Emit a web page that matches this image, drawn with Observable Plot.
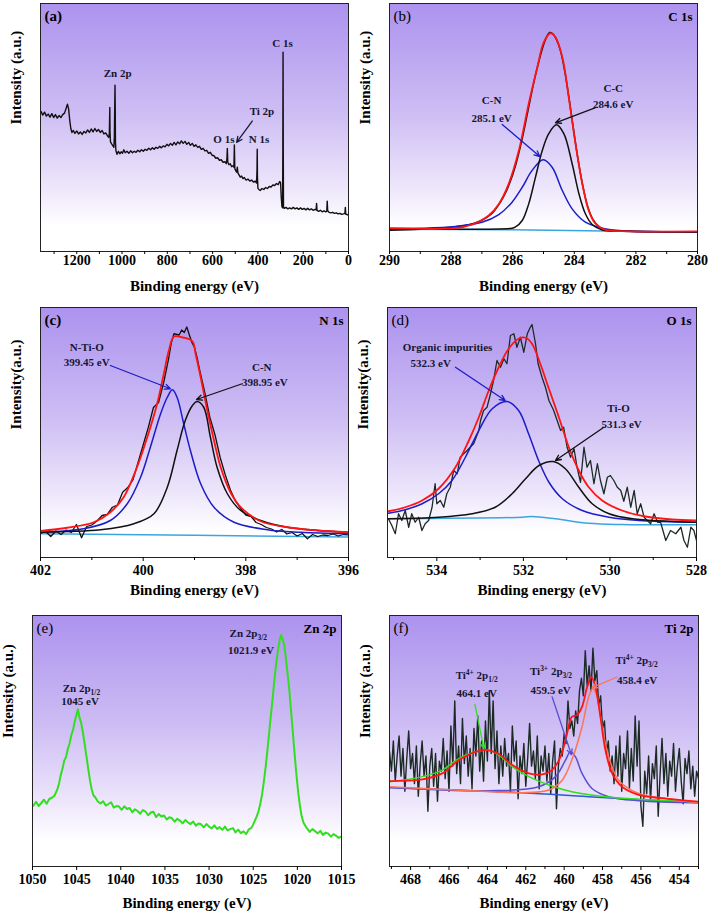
<!DOCTYPE html>
<html><head><meta charset="utf-8">
<script src="https://cdn.jsdelivr.net/npm/d3@7"></script>
<script src="https://cdn.jsdelivr.net/npm/@observablehq/plot@0.6"></script>
<style>
body{margin:0;background:#fff;}
#fig{position:relative;width:709px;height:913px;overflow:hidden;background:#fff;}
.panel{position:absolute;}
</style></head><body><div id="fig"></div>
<script>
const FONT = "'Liberation Serif','Times New Roman',serif";
const X_TITLE = "Binding energy (eV)";

// ---------- (a) survey ----------
const surveyTicks = [1200, 1000, 800, 600, 400, 200, 0];
const surveyMinor = [1300, 1100, 900, 700, 500, 300, 100];
const surveySpectrum = [[1358,56.5],[1350,55.0],[1342,56.2],[1334,54.6],[1326,55.4],[1318,54.2],[1310,55.6],[1302,54.0],[1294,55.2],[1286,53.8],[1278,54.8],[1270,54.0],[1262,55.2],[1254,55.8],[1246,58.0],[1241,59.4],[1236,57.6],[1231,53.0],[1226,49.5],[1221,48.0],[1215,48.8],[1208,47.6],[1200,48.6],[1192,47.4],[1184,48.2],[1176,47.2],[1168,48.4],[1160,47.8],[1152,49.0],[1144,48.0],[1136,49.4],[1128,48.2],[1120,49.6],[1112,48.4],[1104,49.2],[1096,48.0],[1088,48.8],[1080,47.4],[1072,47.8],[1064,46.6],[1059,46.0],[1056,47.5],[1055,53],[1054,58.1],[1053,48],[1051,44.2],[1046,43.4],[1040,42.6],[1036,42.0],[1034,46],[1032,60],[1031,67.1],[1030,58],[1029,44],[1027,40.6],[1022,39.2],[1016,40.4],[1010,39.4],[1004,40.2],[998,39.6],[992,41.0],[986,39.8],[978,40.4],[970,39.6],[962,40.6],[954,39.8],[946,40.4],[938,40.0],[930,40.8],[922,40.2],[914,41.0],[906,40.4],[898,41.2],[890,40.8],[882,41.6],[874,41.0],[866,41.8],[858,41.2],[850,42.0],[842,41.6],[834,42.4],[826,41.8],[818,42.6],[810,42.2],[802,43.2],[794,42.6],[786,43.6],[778,42.8],[770,44.0],[762,43.0],[754,44.2],[746,43.4],[738,44.6],[730,43.6],[722,44.4],[714,43.2],[706,44.0],[698,42.8],[690,43.6],[682,42.4],[674,43.0],[666,42.0],[658,42.4],[650,41.2],[642,41.6],[634,40.6],[626,40.8],[618,39.6],[610,40.0],[602,38.8],[594,38.6],[586,37.6],[578,37.8],[570,36.8],[562,37.0],[554,36.0],[546,36.2],[540,35.4],[537,37],[535,41.6],[533,36],[528,35.0],[522,35.4],[516,34.2],[510,34.6],[506,34.0],[504,43.0],[502,33.5],[498,32.6],[494,32.0],[491,34],[488,31.6],[484,31.0],[478,30.0],[472,30.4],[466,29.4],[460,29.8],[452,28.8],[444,29.2],[436,28.4],[428,28.8],[420,28.0],[412,28.4],[406,27.6],[404,33],[403,41.2],[402,30],[400,25.6],[396,25.0],[390,24.6],[382,25.4],[374,25.0],[366,25.8],[358,25.4],[350,26.2],[342,26.0],[334,26.8],[326,26.6],[318,27.4],[310,27.0],[304,28.2],[300,27.8],[297,22],[294,18.2],[291,17.6],[290,40],[289,80.4],[288,40],[287,18],[284,17.4],[276,17.8],[268,17.2],[260,17.6],[252,17.2],[244,17.8],[236,17.2],[228,17.6],[220,17.0],[212,17.6],[204,17.0],[196,17.4],[188,16.8],[180,17.4],[172,16.8],[164,17.2],[156,16.6],[148,17.0],[143,16.8],[141,19.4],[139,16.6],[132,16.2],[124,16.6],[116,16.0],[108,16.4],[100,16.0],[96,16.2],[94,20.3],[92,16.4],[86,15.8],[78,15.6],[70,15.8],[62,15.4],[54,15.6],[46,15.2],[38,15.4],[30,15.0],[22,15.2],[16,15.4],[14,17.8],[12,15.0],[6,14.9],[0,14.6]];
const surveyLabels = [
  {text: "Zn 2p", x: 1017, y: 71.8}, {text: "C 1s", x: 289, y: 84},
  {text: "Ti 2p", x: 380, y: 56.5}, {text: "O 1s", x: 548, y: 45.2}, {text: "N 1s", x: 393, y: 45.2}
];
const surveyArrows = [{key: "Ti", x1: 425, y1: 52.6, x2: 494, y2: 44}];

// ---------- (b) C 1s ----------
const c1sTicks = [290, 288, 286, 284, 282, 280];
const c1sMinor = [289, 287, 285, 283, 281];
const c1sRaw = [[290,8.6],[289,9.0],[288.5,9.4],[288,9.8],[287.6,10.4],[287.3,11.2],[287.0,12.6],[286.7,15.0],[286.5,18.0],[286.3,22.0],[286.1,27.5],[285.9,35.0],[285.7,45.0],[285.5,57.0],[285.3,69.0],[285.1,79.0],[284.95,85.0],[284.8,88.3],[284.7,87.8],[284.6,86.0],[284.45,81.0],[284.3,72.0],[284.15,60.0],[284.0,47.0],[283.85,35.0],[283.7,25.0],[283.55,17.5],[283.4,13.0],[283.2,10.0],[283.0,8.8],[282.6,8.3],[282,8.1],[281,7.9],[280,7.8]];
const c1sEnvelope = [[290,9.4],[287.86,9.4],[287.31,10.9],[286.78,14.5],[286.45,19.2],[286.13,27.3],[285.80,40.7],[285.48,59.6],[285.2,74.3],[284.99,84.4],[284.77,88.0],[284.61,86.4],[284.39,78.4],[284.18,62.2],[283.96,43.4],[283.74,27.3],[283.53,16.5],[283.31,11.2],[282.99,8.7],[282.44,8.2],[280,8.1]];
const c1sCC = [[290,9.2],[286.02,9.4],[285.92,9.8],[285.69,12.5],[285.48,19.2],[285.26,30.0],[285.04,40.7],[284.83,47.5],[284.58,51.1],[284.34,47.5],[284.07,35.4],[283.85,23.3],[283.64,15.2],[283.42,10.9],[283.09,8.7],[282.44,8.2],[280,8.0]];
const c1sCN = [[290,9.3],[288.94,9.4],[287.86,10.1],[287.0,11.8],[286.45,14.9],[286.02,19.9],[285.69,25.9],[285.37,32.7],[285.01,37.0],[284.72,34.0],[284.39,24.6],[284.07,17.2],[283.64,11.8],[283.09,9.4],[282.44,8.4],[280,8.0]];
const c1sBackground = [[290,9.0],[286,8.8],[283,8.3],[280,7.9]];
const c1sLabels = [
  {text: "C-N", x: 286.67, y: 60.9}, {text: "285.1 eV", x: 286.67, y: 53.5},
  {text: "C-C", x: 282.72, y: 65.6}, {text: "284.6 eV", x: 282.72, y: 59.3}
];
const c1sArrows = [
  {key: "blue", x1: 286.34, y1: 51.2, x2: 285.12, y2: 38.3},
  {key: "black", x1: 283.33, y1: 57.9, x2: 284.61, y2: 51.9}
];

// ---------- (c) N 1s ----------
const n1sTicks = [402, 400, 398, 396];
const n1sMinor = [401, 399, 397];
const n1sRaw = [[402.0,9.6],[401.9,10.4],[401.8,8.4],[401.7,10.6],[401.6,9.2],[401.5,11.0],[401.4,10.0],[401.3,13.2],[401.2,7.9],[401.1,12.4],[401.0,13.0],[400.9,14.6],[400.8,16.8],[400.7,17.2],[400.6,20.1],[400.5,21.0],[400.4,26.1],[400.3,28.0],[400.2,31.0],[400.1,38.0],[400.0,45.0],[399.9,52.0],[399.8,60.0],[399.7,62.0],[399.6,70.0],[399.5,80.0],[399.45,86],[399.4,89.5],[399.3,89.0],[399.25,91.0],[399.2,90.0],[399.15,92.2],[399.1,89.0],[399.05,86.0],[399.0,84.0],[398.95,80.0],[398.9,75.0],[398.8,66.0],[398.7,56.0],[398.6,49.0],[398.5,40.0],[398.4,33.0],[398.3,27.0],[398.2,22.5],[398.1,19.5],[398.0,17.0],[397.9,16.5],[397.8,14.0],[397.7,13.2],[397.6,12.0],[397.5,11.4],[397.4,10.2],[397.3,11.2],[397.2,9.4],[397.1,10.0],[397.0,8.6],[396.9,9.6],[396.8,7.5],[396.7,9.2],[396.6,8.4],[396.5,9.0],[396.4,8.8],[396.3,9.4],[396.2,8.6],[396.1,9.2],[396.0,9.0]];
const n1sEnvelope = [[402,10.6],[401.48,11.9],[400.96,14.1],[400.64,18.1],[400.38,24.1],[400.12,36.1],[399.92,48.1],[399.73,61.3],[399.6,73.3],[399.5,82.8],[399.4,88.4],[399.24,88.1],[399.04,86.5],[398.98,81.5],[398.88,72.1],[398.75,58.8],[398.62,46.8],[398.49,36.1],[398.3,26.1],[398.1,20.1],[397.71,14.5],[397.19,12.1],[396.61,10.8],[396,10.1]];
const n1sNTiO = [[402,10.1],[401.16,11.5],[400.64,14.8],[400.31,21.5],[400.05,32.1],[399.86,44.1],[399.66,57.5],[399.53,64.1],[399.43,67.1],[399.34,64.1],[399.21,53.5],[399.08,42.8],[398.88,29.5],[398.62,20.1],[398.23,14.1],[397.58,11.1],[396.93,10.1],[396,9.5]];
const n1sCN = [[402,10.1],[400.83,11.1],[400.18,13.5],[399.79,17.5],[399.53,28.1],[399.34,42.8],[399.18,54.8],[399.04,60.8],[398.95,62.4],[398.82,60.1],[398.69,48.1],[398.56,36.1],[398.36,25.5],[398.1,18.8],[397.71,14.8],[397.19,12.1],[396,10.1]];
const n1sBackground = [[402,9.5],[399,8.9],[396,8.2]];
const n1sLabels = [
  {text: "N-Ti-O", x: 401.09, y: 84.1}, {text: "399.45 eV", x: 401.09, y: 77.9},
  {text: "C-N", x: 397.68, y: 76.1}, {text: "398.95 eV", x: 397.62, y: 70.1}
];
const n1sArrows = [
  {key: "blue", x1: 400.64, y1: 76.8, x2: 399.47, y2: 67.5},
  {key: "black", x1: 398.07, y1: 69.5, x2: 398.96, y2: 63.2}
];

// ---------- (d) O 1s ----------
const o1sTicks = [534, 532, 530, 528];
const o1sMinor = [535, 533, 531, 529];
const o1sRaw = [[535.12,15.5],[535.04,12.8],[534.96,9.5],[534.885,17.5],[534.81,14.8],[534.73,18.8],[534.65,12.1],[534.58,17.5],[534.50,14.1],[534.42,16.1],[534.345,10.8],[534.27,13.5],[534.19,14.8],[534.11,20.1],[534.04,29.5],[534.0,21.5],[533.92,22.8],[533.84,20.1],[533.77,25.5],[533.69,28.1],[533.61,34.8],[533.53,33.5],[533.46,40.1],[533.38,41.5],[533.30,42.8],[533.23,44.1],[533.15,45.5],[533.03,50.8],[532.99,54.8],[532.92,58.8],[532.84,60.1],[532.76,65.5],[532.69,70.8],[532.61,78.8],[532.53,76.1],[532.45,79.5],[532.38,77.5],[532.30,88.8],[532.22,89.5],[532.15,84.1],[532.07,88.1],[531.99,82.1],[531.91,89.5],[531.84,92.1],[531.80,93.2],[531.72,85.5],[531.66,77.5],[531.57,72.1],[531.49,68.1],[531.41,62.8],[531.30,58.8],[531.22,54.8],[531.14,50.8],[531.07,52.1],[530.99,44.1],[530.91,40.1],[530.83,43.5],[530.76,36.1],[530.68,30.1],[530.60,44.1],[530.53,36.1],[530.45,38.8],[530.37,29.5],[530.29,37.5],[530.22,30.8],[530.14,25.5],[530.06,32.1],[529.99,32.8],[529.91,30.8],[529.83,28.1],[529.75,26.8],[529.68,22.5],[529.60,28.1],[529.52,20.1],[529.44,26.8],[529.37,17.5],[529.29,21.5],[529.21,16.1],[529.14,14.8],[529.06,13.5],[528.98,17.5],[528.90,14.1],[528.83,14.1],[528.71,6.8],[528.60,10.8],[528.48,9.5],[528.36,12.1],[528.29,6.8],[528.21,4.1],[528.13,12.1],[528.06,10.8],[528.0,6.8]];
const o1sEnvelope = [[535.12,18.5],[534.73,20.1],[534.34,22.8],[533.96,27.5],[533.57,36.1],[533.26,46.8],[533.03,56.1],[532.80,66.8],[532.57,76.1],[532.34,83.5],[532.11,87.5],[531.95,87.9],[531.80,85.5],[531.61,77.5],[531.41,67.5],[531.18,56.1],[530.95,44.1],[530.72,34.8],[530.49,28.1],[530.18,22.8],[529.72,18.8],[529.18,16.4],[528.56,15.2],[528.0,14.8]];
const o1sOrganic = [[535.12,17.7],[534.73,19.1],[534.34,21.5],[533.96,25.5],[533.65,30.8],[533.34,40.1],[533.03,50.8],[532.72,59.5],[532.38,62.4],[532.11,58.8],[531.88,49.5],[531.65,38.8],[531.41,30.1],[531.10,23.5],[530.64,18.8],[530.02,16.1],[529.33,14.8],[528.0,14.1]];
const o1sTiO = [[535.12,15.5],[533.96,16.1],[533.19,17.5],[532.65,20.1],[532.26,25.5],[531.95,31.5],[531.64,36.8],[531.31,38.4],[531.03,35.5],[530.72,28.1],[530.41,21.5],[530.02,17.5],[529.48,15.5],[528.0,14.1]];
const o1sBackground = [[535.12,15.5],[532.03,16.1],[531.8,16.4],[531.26,15.5],[530.49,13.7],[529.72,13.2],[528.0,13.1]];
const o1sLabels = [
  {text: "Organic impurities", x: 533.74, y: 83.9}, {text: "532.3 eV", x: 534.13, y: 77.7},
  {text: "Ti-O", x: 529.79, y: 59.5}, {text: "531.3 eV", x: 529.72, y: 53.2}
];
const o1sArrows = [
  {key: "blue", x1: 533.57, y1: 76.1, x2: 532.42, y2: 62.8},
  {key: "black", x1: 530.14, y1: 52.1, x2: 531.26, y2: 38.8}
];

// ---------- (e) Zn 2p ----------
const zn2pTicks = [1050, 1045, 1040, 1035, 1030, 1025, 1020, 1015];
const zn2pMinor = [];
const zn2pSpectrum = [[1049.9,24.2],[1049.6,25.8],[1049.3,24.1],[1049.0,25.3],[1048.7,26.6],[1048.4,25.0],[1048.1,26.9],[1047.8,27.4],[1047.5,28.3],[1047.2,30.6],[1047.0,33.0],[1046.8,36.4],[1046.6,39.0],[1046.4,42.2],[1046.2,43.6],[1046.0,46.8],[1045.8,49.0],[1045.6,52.4],[1045.4,54.6],[1045.2,58.0],[1045.0,60.8],[1044.85,62.6],[1044.7,59.6],[1044.5,57.4],[1044.3,53.6],[1044.1,49.0],[1043.9,44.2],[1043.7,39.2],[1043.5,34.6],[1043.3,30.8],[1043.1,28.4],[1042.9,27.6],[1042.6,25.9],[1042.3,25.1],[1042.0,26.0],[1041.7,24.3],[1041.4,24.9],[1041.1,25.6],[1040.8,23.5],[1040.5,24.1],[1040.2,23.9],[1039.9,22.6],[1039.6,24.0],[1039.3,22.9],[1039.0,23.3],[1038.7,21.6],[1038.4,22.8],[1038.1,22.1],[1037.8,21.0],[1037.5,22.5],[1037.2,21.9],[1036.9,20.4],[1036.6,21.5],[1036.3,21.8],[1036.0,19.7],[1035.7,20.9],[1035.4,19.9],[1035.1,20.3],[1034.8,18.7],[1034.5,19.6],[1034.2,19.2],[1033.9,17.9],[1033.6,19.0],[1033.3,18.3],[1033.0,17.2],[1032.7,18.5],[1032.4,17.6],[1032.1,16.9],[1031.8,17.9],[1031.5,16.3],[1031.2,17.1],[1030.9,16.8],[1030.6,15.6],[1030.3,16.9],[1030.0,15.9],[1029.7,15.2],[1029.4,16.4],[1029.1,15.0],[1028.8,15.7],[1028.5,14.6],[1028.2,15.9],[1027.9,14.4],[1027.6,14.9],[1027.3,15.3],[1027.0,13.6],[1026.7,14.7],[1026.4,13.3],[1026.1,14.0],[1025.8,12.9],[1025.5,14.8],[1025.2,15.4],[1025.0,16.8],[1024.8,18.4],[1024.6,20.0],[1024.4,22.0],[1024.2,25.0],[1024.0,28.6],[1023.8,33.6],[1023.6,39.4],[1023.4,46.0],[1023.2,53.0],[1023.0,60.2],[1022.8,67.0],[1022.6,74.4],[1022.4,80.6],[1022.2,86.0],[1022.0,90.2],[1021.85,92.2],[1021.7,91.0],[1021.5,88.4],[1021.3,83.0],[1021.1,76.6],[1020.9,70.0],[1020.7,61.4],[1020.5,53.0],[1020.3,44.4],[1020.1,36.4],[1019.9,29.4],[1019.7,24.0],[1019.5,19.8],[1019.3,17.4],[1019.1,16.2],[1018.9,15.2],[1018.6,13.8],[1018.3,14.9],[1018.0,14.1],[1017.7,13.2],[1017.4,14.2],[1017.1,12.6],[1016.8,13.5],[1016.5,13.1],[1016.2,11.9],[1015.9,12.9],[1015.6,12.2],[1015.3,11.4],[1015.0,12.0]];
const zn2pLabels = [
  {text: "Zn 2p_1/2", x: 1044.4, y: 71.0}, {text: "1045 eV", x: 1044.55, y: 65.5},
  {text: "Zn 2p_3/2", x: 1025.5, y: 92.7}, {text: "1021.9 eV", x: 1025.2, y: 86.1}
];
const zn2pArrows = [];

// ---------- (f) Ti 2p ----------
const ti2pTicks = [468, 466, 464, 462, 460, 458, 456, 454];
const ti2pMinor = [469, 467, 465, 463, 461, 459, 457, 455, 453];
const ti2pRaw = [[469.1,46],[469.0,38],[468.9,50],[468.8,34],[468.7,44],[468.6,52],[468.5,36],[468.4,47],[468.3,30],[468.2,43],[468.1,54],[468.0,39],[467.9,45],[467.8,33],[467.7,48],[467.6,28],[467.5,41],[467.4,50],[467.3,36],[467.2,44],[467.1,22],[467.0,40],[466.9,47],[466.8,32],[466.7,45],[466.6,26],[466.5,42],[466.4,38],[466.3,51],[466.2,35],[466.1,46],[466.0,30],[465.9,56],[465.8,40],[465.7,66],[465.6,37],[465.5,48],[465.4,33],[465.3,59],[465.2,41],[465.1,52],[465.0,36],[464.9,47],[464.8,31],[464.7,55],[464.6,44],[464.5,60],[464.4,38],[464.3,50],[464.2,34],[464.1,58],[464.0,42],[463.9,70],[463.8,45],[463.7,66],[463.6,39],[463.5,54],[463.4,33],[463.3,48],[463.2,36],[463.1,51],[463.0,40],[462.9,45],[462.8,30],[462.7,56],[462.6,42],[462.5,50],[462.4,27],[462.3,44],[462.2,37],[462.1,49],[462.0,32],[461.9,43],[461.8,57],[461.7,40],[461.6,46],[461.5,35],[461.4,52],[461.3,31],[461.2,44],[461.1,38],[461.0,48],[460.9,34],[460.8,45],[460.7,29],[460.6,42],[460.5,50],[460.4,23],[460.3,40],[460.2,47],[460.1,44],[460.0,53],[459.9,49],[459.8,66],[459.7,55],[459.6,58],[459.5,52],[459.4,62],[459.3,57],[459.2,70],[459.1,75],[459.0,68],[458.9,86],[458.8,72],[458.7,80],[458.6,70],[458.5,87],[458.4,74],[458.3,78],[458.2,64],[458.1,68],[458.0,55],[457.9,58],[457.8,45],[457.7,50],[457.6,38],[457.5,44],[457.4,33],[457.3,48],[457.2,36],[457.1,52],[457.0,30],[456.9,45],[456.8,39],[456.7,54],[456.6,31],[456.5,47],[456.4,34],[456.3,60],[456.2,40],[456.1,58],[456.0,24],[455.9,16],[455.8,38],[455.7,29],[455.6,44],[455.5,26],[455.4,41],[455.3,35],[455.2,48],[455.1,20],[455.0,37],[454.9,51],[454.8,33],[454.7,45],[454.6,28],[454.5,42],[454.4,36],[454.3,49],[454.2,30],[454.1,40],[454.0,47],[453.9,34],[453.8,25],[453.7,43],[453.6,37],[453.5,46],[453.4,31],[453.3,40],[453.2,28],[453.1,38],[453.0,35]];
const ti2pEnvelope = [[469.1,34.0],[467.39,34.7],[466.35,37.1],[465.48,42.4],[464.61,45.7],[464.0,46.4],[463.4,44.8],[462.7,40.4],[461.84,37.1],[461.14,36.7],[460.63,38.4],[460.19,43.7],[459.85,53.0],[459.6,59.6],[459.33,60.3],[459.07,63.6],[458.8,71.5],[458.58,75.5],[458.37,71.5],[458.11,59.6],[457.85,46.4],[457.5,37.1],[456.99,31.8],[456.12,28.5],[454.9,27.2],[453.0,25.8]];
const ti2pTi4Half = [[469.1,33.8],[467.39,35.8],[466.35,38.4],[465.48,43.1],[464.61,45.7],[464.0,46.4],[463.4,44.4],[462.7,39.8],[461.84,35.8],[460.8,32.5],[459.6,29.8],[457.85,27.8],[456.12,26.8],[453.0,25.8]];
const ti2pTi4ThreeHalf = [[469.1,31.8],[465.65,30.5],[462.19,29.4],[460.8,30.5],[460.1,34.4],[459.6,42.4],[459.07,55.6],[458.72,67.6],[458.51,70.9],[458.28,67.6],[458.02,55.6],[457.68,43.7],[457.16,34.4],[456.12,29.1],[454.4,26.8],[453.0,25.4]];
const ti2pTi3 = [[469.1,31.5],[463.92,30.2],[461.32,31.8],[460.45,35.8],[459.93,42.4],[459.67,45.7],[459.41,43.7],[459.07,37.1],[458.55,31.1],[457.68,27.8],[456.12,26.2],[453.0,25.4]];
const ti2pBackground = [[469.1,31.5],[462.19,29.4],[458.72,27.8],[453.0,25.4]];
const ti2pLabels = [
  {text: "Ti^4+ 2p_1/2", x: 464.53, y: 76.2}, {text: "464.1 eV", x: 464.53, y: 68.9},
  {text: "Ti^3+ 2p_3/2", x: 460.66, y: 77.5}, {text: "459.5 eV", x: 460.68, y: 70.0},
  {text: "Ti^4+ 2p_3/2", x: 456.2, y: 81.9}, {text: "458.4 eV", x: 456.17, y: 74.2}
];
const ti2pArrows = [
  {key: "green", x1: 464.65, y1: 64.6, x2: 464.18, y2: 47.0},
  {key: "purple", x1: 460.63, y1: 67.6, x2: 459.62, y2: 44.5},
  {key: "coral", x1: 457.24, y1: 75.5, x2: 458.54, y2: 71.3}
];

// ---------- styles ----------
const COLORS = {black: "#111", raw: "#1c2a25", red: "#ff1414", blue: "#1c1cc8", base: "#3aa6e0",
  green: "#33dd22", coral: "#ff7352", purple: "#5a4fcf", baseBlue: "#2a5bd7", Ti: "#1a1a3a", text: "#161630"};

function gradient(id) {
  return (index, scales, values, dims) => {
    const {width, height, marginTop, marginRight, marginBottom, marginLeft} = dims;
    const g = d3.create("svg:g");
    const lg = g.append("defs").append("linearGradient").attr("id", id)
      .attr("x1", 0).attr("y1", 0).attr("x2", 0).attr("y2", 1);
    [[0, "#ac92ee"], [0.45, "#cebef4"], [0.75, "#eee7fb"], [0.9, "#ffffff"]]
      .forEach(([o, c]) => lg.append("stop").attr("offset", o).attr("stop-color", c));
    g.append("rect").attr("x", marginLeft).attr("y", marginTop)
      .attr("width", width - marginLeft - marginRight).attr("height", height - marginTop - marginBottom)
      .attr("fill", `url(#${id})`);
    return g.node();
  };
}

function richText(items, fontSize = 11) {
  return (index, scales) => {
    const g = d3.create("svg:g").attr("font-family", FONT).attr("font-weight", "bold")
      .attr("font-size", fontSize).attr("fill", COLORS.text).attr("text-anchor", "middle");
    for (const it of items) {
      const t = g.append("text").attr("x", scales.x(it.x)).attr("y", scales.y(it.y) + fontSize * 0.35);
      const parts = it.text.split(/([\^_][^\s_^]+)/).filter(s => s);
      let shift = 0;
      for (const p of parts) {
        let s = 0, txt = p, small = false;
        if (p[0] === "^") { s = -4; txt = p.slice(1); small = true; }
        else if (p[0] === "_") { s = 3; txt = p.slice(1); small = true; }
        const ts = t.append("tspan").text(txt);
        if (s - shift !== 0) ts.attr("dy", s - shift);
        if (small) ts.attr("font-size", fontSize * 0.68);
        shift = s;
      }
    }
    return g.node();
  };
}

function panel(cfg) {
  const marks = [
    gradient(cfg.id),
    ...cfg.layers.map(L => Plot.line(L.data, {x: d => d[0], y: d => d[1], stroke: L.color,
      strokeWidth: L.w ?? 1.5, curve: L.curve ?? "linear", clip: true})),
    ...cfg.arrows.map(a => Plot.arrow([a], {x1: "x1", y1: "y1", x2: "x2", y2: "y2",
      stroke: COLORS[a.key], strokeWidth: 1.3, headLength: 7, headAngle: 50})),
    Plot.frame({stroke: "#222", strokeWidth: 1}),
    Plot.axisX(cfg.minor, {tickSize: 3, tickFormat: () => "", label: null}),
    Plot.axisX(cfg.major, {tickSize: cfg.tickSize, tickPadding: cfg.tickPadding, tickFormat: d => String(d),
      label: null, fontSize: 14, fontWeight: "bold"}),
    richText(cfg.labels),
    Plot.text([cfg.letter], {text: d => d, frameAnchor: "top-left", dx: 4, dy: 13, textAnchor: "start",
      lineAnchor: "middle", fontSize: 15, fontWeight: cfg.letterBold ? "bold" : "normal"}),
    Plot.text([cfg.element], {text: d => d, frameAnchor: "top-right", dx: -5, dy: 13, textAnchor: "end",
      lineAnchor: "middle", fontSize: 13, fontWeight: "bold"}),
    Plot.text([cfg.yLabel], {text: d => d, frameAnchor: "left", dx: -24, dy: -3, rotate: -90,
      lineAnchor: "middle", fontSize: 15, fontWeight: "bold"}),
    Plot.text([X_TITLE], {text: d => d, frameAnchor: "bottom", dy: cfg.titleDy, lineAnchor: "middle",
      fontSize: 15, fontWeight: "bold"})
  ];
  const svg = Plot.plot({
    width: cfg.w, height: cfg.h,
    marginTop: cfg.mt, marginRight: cfg.mr, marginBottom: cfg.mb, marginLeft: cfg.ml,
    x: {domain: cfg.domain}, y: {domain: [0, 100], axis: null},
    style: {fontFamily: FONT, fontSize: "14px", fontWeight: "bold", color: "#000", background: "transparent", overflow: "visible"},
    marks
  });
  const div = document.createElement("div");
  div.className = "panel";
  div.style.left = cfg.left + "px";
  div.style.top = cfg.top + "px";
  div.appendChild(svg);
  document.getElementById("fig").appendChild(div);
}

const row1 = {h: 300, mt: 3, mb: 49, tickSize: 3, tickPadding: 1, titleDy: 35};
const row2 = {h: 300, mt: 7, mb: 43, tickSize: 4, tickPadding: 4, titleDy: 33};
const row3 = {h: 313, mt: 15, mb: 47, tickSize: 4, tickPadding: 4, titleDy: 37};

panel({...row1, id: "gA", left: 0, top: 0, w: 354, ml: 40, mr: 6, domain: [1360, 0],
  major: surveyTicks, minor: surveyMinor, letter: "(a)", letterBold: true, element: "", yLabel: "Intensity (a.u.)",
  layers: [{data: surveySpectrum, color: COLORS.black, w: 1.4}],
  labels: surveyLabels, arrows: surveyArrows});

panel({...row1, id: "gB", left: 354, top: 0, w: 355, ml: 35, mr: 12, domain: [290, 280],
  major: c1sTicks, minor: c1sMinor, letter: "(b)", element: "C 1s", yLabel: "Intensity (a.u.)",
  layers: [
    {data: c1sBackground, color: COLORS.base},
    {data: c1sRaw, color: COLORS.black, curve: "catmull-rom"},
    {data: c1sCN, color: COLORS.blue, curve: "catmull-rom"},
    {data: c1sCC, color: COLORS.black, curve: "catmull-rom"},
    {data: c1sEnvelope, color: COLORS.red, w: 1.8, curve: "catmull-rom"}],
  labels: c1sLabels, arrows: c1sArrows});

panel({...row2, id: "gC", left: 0, top: 300, w: 354, ml: 40, mr: 6, domain: [402, 396],
  major: n1sTicks, minor: n1sMinor, letter: "(c)", letterBold: true, element: "N 1s", yLabel: "Intensity(a.u.)",
  layers: [
    {data: n1sBackground, color: COLORS.base},
    {data: n1sRaw, color: COLORS.black, w: 1.3},
    {data: n1sNTiO, color: COLORS.blue, curve: "catmull-rom"},
    {data: n1sCN, color: COLORS.black, curve: "catmull-rom"},
    {data: n1sEnvelope, color: COLORS.red, w: 1.8, curve: "catmull-rom"}],
  labels: n1sLabels, arrows: n1sArrows});

panel({...row2, id: "gD", left: 354, top: 300, w: 355, ml: 33, mr: 13, domain: [535.14, 528],
  major: o1sTicks, minor: o1sMinor, letter: "(d)", element: "O 1s", yLabel: "Intensity(a.u.)",
  layers: [
    {data: o1sBackground, color: COLORS.base, curve: "catmull-rom"},
    {data: o1sRaw, color: COLORS.raw, w: 1.3},
    {data: o1sOrganic, color: COLORS.blue, curve: "catmull-rom"},
    {data: o1sTiO, color: COLORS.black, curve: "catmull-rom"},
    {data: o1sEnvelope, color: COLORS.red, w: 1.8, curve: "catmull-rom"}],
  labels: o1sLabels, arrows: o1sArrows});

panel({...row3, id: "gE", left: 0, top: 600, w: 354, ml: 32, mr: 13, domain: [1050, 1015],
  major: zn2pTicks, minor: zn2pMinor, letter: "(e)", element: "Zn 2p", yLabel: "Intensity (a.u.)",
  layers: [{data: zn2pSpectrum, color: COLORS.green, w: 2}],
  labels: zn2pLabels, arrows: zn2pArrows});

panel({...row3, id: "gF", left: 354, top: 600, w: 355, ml: 35, mr: 11, domain: [469.1, 453],
  major: ti2pTicks, minor: ti2pMinor, letter: "(f)", element: "Ti 2p", yLabel: "Intensity (a.u.)",
  layers: [
    {data: ti2pRaw, color: COLORS.raw, w: 1.4},
    {data: ti2pBackground, color: COLORS.baseBlue, curve: "catmull-rom"},
    {data: ti2pTi3, color: COLORS.purple, curve: "catmull-rom"},
    {data: ti2pTi4Half, color: COLORS.green, curve: "catmull-rom"},
    {data: ti2pTi4ThreeHalf, color: COLORS.coral, curve: "catmull-rom"},
    {data: ti2pEnvelope, color: COLORS.red, w: 1.8, curve: "catmull-rom"}],
  labels: ti2pLabels, arrows: ti2pArrows});
</script></body></html>
